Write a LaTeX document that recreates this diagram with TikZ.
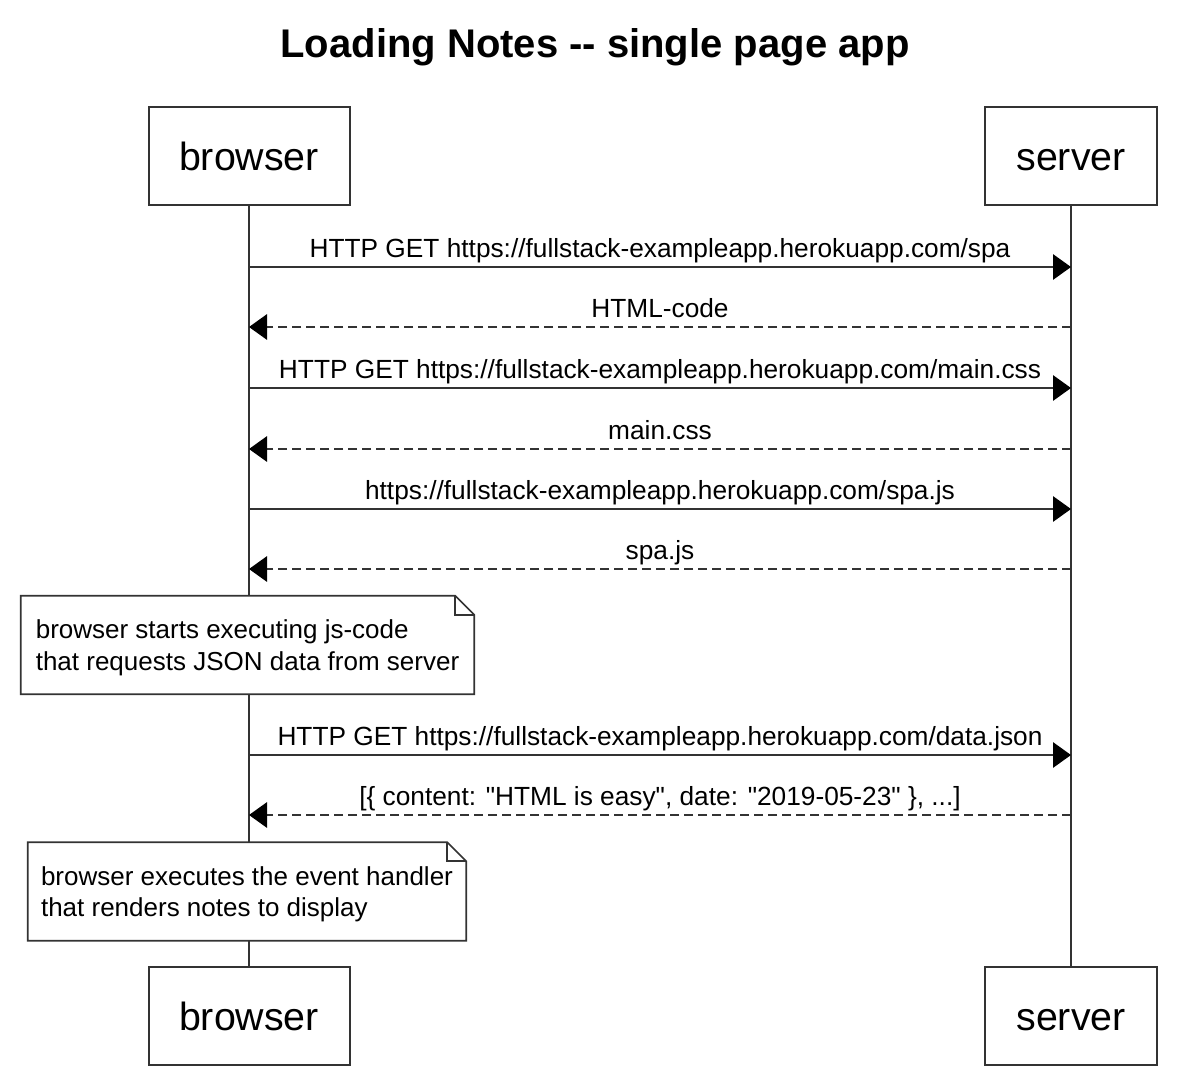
\documentclass[tikz,border=0pt]{standalone}
\usepackage{fontspec}
\setmainfont{Liberation Sans}
\usetikzlibrary{arrows.meta}
\usetikzlibrary{positioning}
\usetikzlibrary{calc}
\definecolor{lgrey}{rgb}{0.2, 0.2, 0.2}
\tikzset{actor/.style = {draw = lgrey, line width = 1.5pt, fill = white,
                         minimum height = 73.5pt, inner sep = 0pt,
                         text height = 24pt, text depth = 3pt,
                         font = \fontsize{29.5}{34}\selectfont}}
\tikzset{life/.style = {lgrey, line width = 1.5pt}}
\tikzset{req/.style = {lgrey, line width = 1.5pt,
                       -{Triangle[length=13.5pt, width=19pt, black]}}}
\tikzset{reply/.style = {req, dash pattern = on 6.5pt off 4pt}}
\tikzset{msg/.style = {midway, anchor = base, yshift = 7pt, inner sep = 0pt,
                       text = black, font = \fontsize{19.7}{23}\selectfont}}
\tikzset{note/.style = {fill = white, align = left, inner sep = 0pt,
                        minimum height = 73.5pt,
                        font = \fontsize{19.5}{23.5}\selectfont}}
\tikzset{notebox/.style = {draw = lgrey, line width = 1.2pt, line join = miter}}
\newcommand{\qt}{\textquotedbl}

\begin{document}
\begin{tikzpicture}[x = 0.75pt, y = -0.75pt]
      \useasboundingbox [fill = white] (0, 0) rectangle (1186, 1082);
      \node [font = \fontsize{30}{36}\selectfont\bfseries] (title) at (595, 47) {Loading Notes -{}- single page app};
      % actors
      \node [actor, minimum width = 150.75pt] (btop) at (249, 156) {browser};
      \node [actor, minimum width = 129pt] (stop) at (1071, 156) {server};
      \node [actor, minimum width = 150.75pt] (bbot) at (249, 1016) {browser};
      \node [actor, minimum width = 129pt] (sbot) at (1071, 1016) {server};
      \draw [life] (btop) -- (bbot);
      \draw [life] (stop) -- (sbot);
      % points on the lifelines
      \coordinate (bspa) at (249, 267);  \coordinate (sspa) at (1071, 267);
      \coordinate (bhtml) at (249, 327); \coordinate (shtml) at (1071, 327);
      \coordinate (bcss) at (249, 388);  \coordinate (scss) at (1071, 388);
      \coordinate (bcssr) at (249, 449); \coordinate (scssr) at (1071, 449);
      \coordinate (bjs) at (249, 509);   \coordinate (sjs) at (1071, 509);
      \coordinate (bjsr) at (249, 569);  \coordinate (sjsr) at (1071, 569);
      \coordinate (bdata) at (249, 755); \coordinate (sdata) at (1071, 755);
      \coordinate (bdatar) at (249, 815); \coordinate (sdatar) at (1071, 815);
      % messages
      \draw [req] (bspa) -- (sspa) node [msg] {HTTP GET https://fullstack-exampleapp.herokuapp.com/spa};
      \draw [reply] (shtml) -- (bhtml) node [msg] {HTML-code};
      \draw [req] (bcss) -- (scss) node [msg] {HTTP GET https://fullstack-exampleapp.herokuapp.com/main.css};
      \draw [reply] (scssr) -- (bcssr) node [msg] {main.css};
      \draw [req] (bjs) -- (sjs) node [msg] {https://fullstack-exampleapp.herokuapp.com/spa.js};
      \draw [reply] (sjsr) -- (bjsr) node [msg] {spa.js};
      \draw [req] (bdata) -- (sdata) node [msg] {HTTP GET https://fullstack-exampleapp.herokuapp.com/data.json};
      \draw [reply] (sdatar) -- (bdatar) node [msg] {[\{ content: \qt HTML is easy\qt, date: \qt 2019-05-23\qt\ \}, ...]};
      % notes
      \node [note, minimum width = 339.75pt] (nexec) at (247.5, 645) {\rule{0pt}{18.5pt}browser starts executing js-code\\that requests JSON data from server};
      \draw [notebox] (nexec.south west) -- (nexec.north west) -- ($(nexec.north east) + (-19, 0)$)
            -- ($(nexec.north east) + (0, 19)$) -- (nexec.south east) -- cycle;
      \draw [notebox] ($(nexec.north east) + (-19, 0)$) -- ($(nexec.north east) + (-19, 19)$) -- ($(nexec.north east) + (0, 19)$);
      \node [note, minimum width = 328.5pt] (nrender) at (247, 891.5) {\rule{0pt}{18.5pt}browser executes the event handler\\that renders notes to display};
      \draw [notebox] (nrender.south west) -- (nrender.north west) -- ($(nrender.north east) + (-19, 0)$)
            -- ($(nrender.north east) + (0, 19)$) -- (nrender.south east) -- cycle;
      \draw [notebox] ($(nrender.north east) + (-19, 0)$) -- ($(nrender.north east) + (-19, 19)$) -- ($(nrender.north east) + (0, 19)$);
    \end{tikzpicture}
\end{document}
